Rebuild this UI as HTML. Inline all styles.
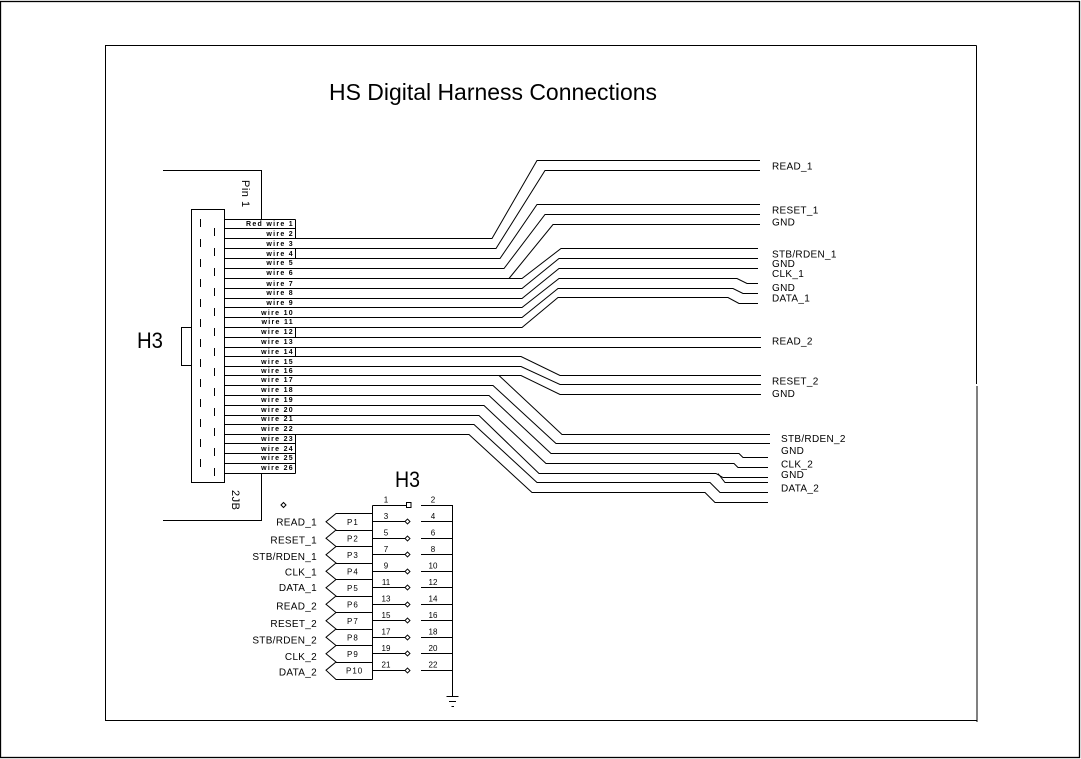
<!DOCTYPE html>
<html><head><meta charset="utf-8"><style>
html,body{margin:0;padding:0;background:#fff;}
svg{display:block;}
text{font-family:"Liberation Sans",Arial,sans-serif;fill:#000;}
.w{font-size:7px;font-weight:bold;letter-spacing:1.3px;text-anchor:end;}
.l{font-size:10px;letter-spacing:0.3px;}
.r{font-size:10px;letter-spacing:0.3px;text-anchor:end;}
.p{font-size:8px;letter-spacing:1px;}
.n{font-size:8px;text-anchor:middle;}
</style></head><body>
<svg width="1081" height="759" viewBox="0 0 1081 759" xmlns="http://www.w3.org/2000/svg">
<rect x="0" y="0" width="1081" height="759" fill="#fff"/>
<g fill="none" stroke="#000" stroke-width="1">
<rect x="0.5" y="1.5" width="1079" height="756" stroke-width="1.3"/>
<path d="M976.5 45.5 H105.5 V720.5 H977"/>
<path d="M976.5 45.5 V384"/>
<path d="M977 386 V722"/>

<path d="M191.5 209.5 H224.5 V482.5 H191.5 Z"/>
<path d="M191.5 327.5 H181.5 V365.5 H191.5"/>
<path d="M200.5 219 V467" stroke-dasharray="8 12"/>
<path d="M214.5 228 V477" stroke-dasharray="8 12"/>
<path d="M163 170.5 H261.5 V219"/>
<path d="M261.5 473 V520.5 H163"/>

<path d="M224 219.5 H295.5 M224 228.5 H295.5 M295.5 219.5 V238.5"/>
<path d="M224 238.5 H492 L537 160.5 H760"/>
<path d="M224 248.5 H496 L545 170.5 H760"/>
<path d="M295.5 248.5 V258.5"/>
<path d="M224 258.5 H500 L537 204.5 H760"/>
<path d="M224 268.5 H504 L545 214.5 H760"/>
<path d="M224 278.5 H522 L561 248.5 H758"/>
<path d="M509 278.5 L553 224.5 H760"/>
<path d="M224 288.5 H522 L559 258.5 H758"/>
<path d="M224 298.5 H522 L559 268.5 H758"/>
<path d="M224 307.5 H522 L559 278.5 H737 L747 283.5 H758"/>
<path d="M224 317.5 H522 L558 288.5 H733 L743 293.5 H758"/>
<path d="M224 327.5 H522 L558 297.5 H728 L739 303.5 H758"/>
<path d="M295.5 327.5 V337.5"/>
<path d="M224 337.5 H761"/>
<path d="M224 347.5 H761"/>
<path d="M295.5 347.5 V356.5"/>
<path d="M224 356.5 H521 L560 375.5 H761"/>
<path d="M224 366.5 H521 L560 384.5 H761"/>
<path d="M224 375.5 H521 L560 394.5 H761"/>
<path d="M499 375.5 L562 434.5 H770"/>
<path d="M224 385.5 H493 L556 443.5 H770"/>
<path d="M224 395.5 H489 L551 453.5 H739 L743 457.5 H768"/>
<path d="M224 405.5 H484 L546 463.5 H734 L738 467.5 H768"/>
<path d="M224 415.5 H479 L539 473.5 H716 L723 477.5 H768"/>
<path d="M718 473.5 L725 482.5 H768"/>
<path d="M224 424.5 H474 L537 482.5 H710 L720 492.5 H768"/>
<path d="M224 434.5 H469 L532 492.5 H705 L715 502.5 H768"/>
<path d="M224 443.5 H295.5 M224 453.5 H295.5 M224 463.5 H295.5 M224 473.5 H295.5"/>
<path d="M295.5 434.5 V473.5"/>

<path d="M281 505 L283.5 502.5 L286 505 L283.5 507.5 Z"/>
<path d="M372.5 505.5 H406.5"/>
<rect x="406.5" y="502.5" width="4.5" height="5"/>
<path d="M421 505.5 H452.5 V696"/>
<path d="M372.5 505.5 V679.5"/>
<path d="M372.5 513.5 H336 L326 521.7 L336 530 L326 538.2 L336 546.5 L326 554.7 L336 563 L326 571.2 L336 579.5 L326 587.7 L336 596 L326 604.2 L336 612.5 L326 620.7 L336 629 L326 637.2 L336 645.5 L326 653.7 L336 662 L326 670.2 L336 679.5 H372.5"/>
<path d="M336 530.5 H372.5 M336 546.5 H372.5 M336 563.5 H372.5 M336 579.5 H372.5 M336 596.5 H372.5 M336 612.5 H372.5 M336 629.5 H372.5 M336 645.5 H372.5 M336 662.5 H372.5"/>
<path d="M372.5 521.5 H405 M372.5 538.5 H405 M372.5 554.5 H405 M372.5 571.5 H405 M372.5 587.5 H405 M372.5 604.5 H405 M372.5 620.5 H405 M372.5 637.5 H405 M372.5 653.5 H405 M372.5 670.5 H405"/>
<path d="M421 521.5 H452.5 M421 538.5 H452.5 M421 554.5 H452.5 M421 571.5 H452.5 M421 587.5 H452.5 M421 604.5 H452.5 M421 620.5 H452.5 M421 637.5 H452.5 M421 653.5 H452.5 M421 670.5 H452.5"/>
<g stroke-width="0.9">
<path d="M405 521.5 L407.5 519 L410 521.5 L407.5 524 Z"/>
<path d="M405 538.5 L407.5 536 L410 538.5 L407.5 541 Z"/>
<path d="M405 554.5 L407.5 552 L410 554.5 L407.5 557 Z"/>
<path d="M405 571.5 L407.5 569 L410 571.5 L407.5 574 Z"/>
<path d="M405 587.5 L407.5 585 L410 587.5 L407.5 590 Z"/>
<path d="M405 604.5 L407.5 602 L410 604.5 L407.5 607 Z"/>
<path d="M405 620.5 L407.5 618 L410 620.5 L407.5 623 Z"/>
<path d="M405 637.5 L407.5 635 L410 637.5 L407.5 640 Z"/>
<path d="M405 653.5 L407.5 651 L410 653.5 L407.5 656 Z"/>
<path d="M405 670.5 L407.5 668 L410 670.5 L407.5 673 Z"/>
</g>
<path d="M446.5 696.5 H458.5 M449 701.5 H456 M451.5 706.5 H454"/>
</g>

<text x="329" y="100" font-size="23" textLength="328" lengthAdjust="spacingAndGlyphs">HS Digital Harness Connections</text>
<text x="137" y="348" font-size="22" textLength="26" lengthAdjust="spacingAndGlyphs">H3</text>
<text x="395" y="487" font-size="22" textLength="25" lengthAdjust="spacingAndGlyphs">H3</text>
<text transform="translate(242,180) rotate(90)" font-size="11" letter-spacing="0.5">Pin 1</text>
<text transform="translate(232,490) rotate(90)" font-size="11" letter-spacing="0.5">2JB</text>

<text class="w" x="294" y="226">Red wire 1</text>
<text class="w" x="294" y="236">wire 2</text>
<text class="w" x="294" y="246">wire 3</text>
<text class="w" x="294" y="256">wire 4</text>
<text class="w" x="294" y="265">wire 5</text>
<text class="w" x="294" y="275">wire 6</text>
<text class="w" x="294" y="286">wire 7</text>
<text class="w" x="294" y="295">wire 8</text>
<text class="w" x="294" y="305">wire 9</text>
<text class="w" x="294" y="315">wire 10</text>
<text class="w" x="294" y="324">wire 11</text>
<text class="w" x="294" y="334">wire 12</text>
<text class="w" x="294" y="344">wire 13</text>
<text class="w" x="294" y="354">wire 14</text>
<text class="w" x="294" y="364">wire 15</text>
<text class="w" x="294" y="373">wire 16</text>
<text class="w" x="294" y="382">wire 17</text>
<text class="w" x="294" y="392">wire 18</text>
<text class="w" x="294" y="402">wire 19</text>
<text class="w" x="294" y="412">wire 20</text>
<text class="w" x="294" y="421">wire 21</text>
<text class="w" x="294" y="431">wire 22</text>
<text class="w" x="294" y="441">wire 23</text>
<text class="w" x="294" y="451">wire 24</text>
<text class="w" x="294" y="460">wire 25</text>
<text class="w" x="294" y="470">wire 26</text>

<text class="l" x="772" y="169.5">READ_1</text>
<text class="l" x="772" y="213.5">RESET_1</text>
<text class="l" x="772" y="225.5">GND</text>
<text class="l" x="772" y="257.5">STB/RDEN_1</text>
<text class="l" x="772" y="267">GND</text>
<text class="l" x="772" y="277">CLK_1</text>
<text class="l" x="772" y="291">GND</text>
<text class="l" x="772" y="301.5">DATA_1</text>
<text class="l" x="772" y="344.5">READ_2</text>
<text class="l" x="772" y="384.5">RESET_2</text>
<text class="l" x="772" y="397">GND</text>
<text class="l" x="781" y="442">STB/RDEN_2</text>
<text class="l" x="781" y="454">GND</text>
<text class="l" x="781" y="467.5">CLK_2</text>
<text class="l" x="781" y="478">GND</text>
<text class="l" x="781" y="491.5">DATA_2</text>

<text class="r" x="317" y="525.5">READ_1</text>
<text class="r" x="317" y="543.5">RESET_1</text>
<text class="r" x="317" y="560">STB/RDEN_1</text>
<text class="r" x="317" y="575.5">CLK_1</text>
<text class="r" x="317" y="591">DATA_1</text>
<text class="r" x="317" y="609.5">READ_2</text>
<text class="r" x="317" y="627">RESET_2</text>
<text class="r" x="317" y="643.5">STB/RDEN_2</text>
<text class="r" x="317" y="660">CLK_2</text>
<text class="r" x="317" y="675.5">DATA_2</text>

<text class="p" x="347" y="525">P1</text>
<text class="p" x="347" y="541.5">P2</text>
<text class="p" x="347" y="558">P3</text>
<text class="p" x="347" y="574.5">P4</text>
<text class="p" x="347" y="591">P5</text>
<text class="p" x="347" y="607.5">P6</text>
<text class="p" x="347" y="624">P7</text>
<text class="p" x="347" y="640.5">P8</text>
<text class="p" x="347" y="657">P9</text>
<text class="p" x="346" y="673.5">P10</text>

<text class="n" x="386" y="502.5">1</text>
<text class="n" x="433" y="502.5">2</text>
<text class="n" x="386" y="519">3</text>
<text class="n" x="433" y="519">4</text>
<text class="n" x="386" y="535.5">5</text>
<text class="n" x="433" y="535.5">6</text>
<text class="n" x="386" y="552">7</text>
<text class="n" x="433" y="552">8</text>
<text class="n" x="386" y="568.5">9</text>
<text class="n" x="433" y="568.5">10</text>
<text class="n" x="386" y="585">11</text>
<text class="n" x="433" y="585">12</text>
<text class="n" x="386" y="601.5">13</text>
<text class="n" x="433" y="601.5">14</text>
<text class="n" x="386" y="618">15</text>
<text class="n" x="433" y="618">16</text>
<text class="n" x="386" y="634.5">17</text>
<text class="n" x="433" y="634.5">18</text>
<text class="n" x="386" y="651">19</text>
<text class="n" x="433" y="651">20</text>
<text class="n" x="386" y="667.5">21</text>
<text class="n" x="433" y="667.5">22</text>
</svg>
</body></html>
